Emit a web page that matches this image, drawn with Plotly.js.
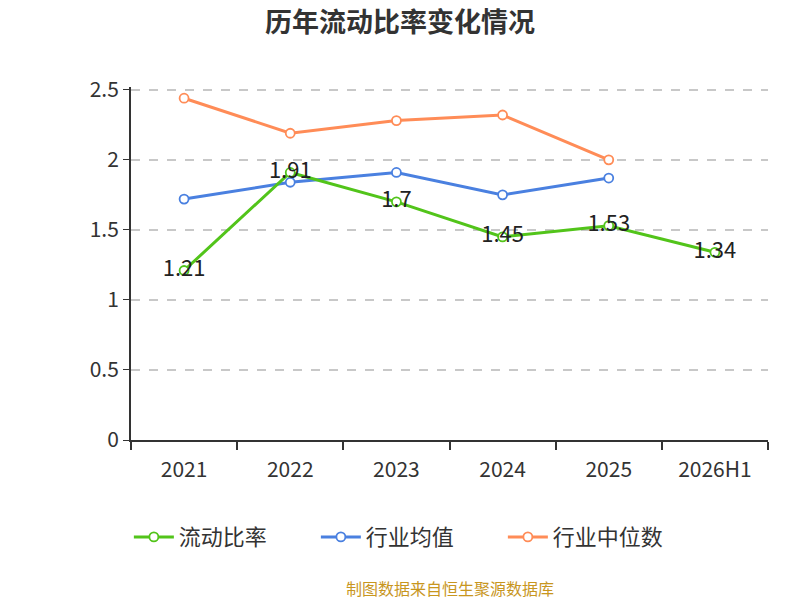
<!DOCTYPE html>
<html>
<head>
<meta charset="utf-8">
<script src="https://cdn.plot.ly/plotly-3.0.1.min.js"></script>
<style>html,body{margin:0;padding:0;background:#fff;}#chart{width:800px;height:600px;}</style>
</head>
<body>
<div id="chart"></div>
<script>
const categories = ["2021", "2022", "2023", "2024", "2025", "2026H1"];
const currentRatio = [1.21, 1.91, 1.7, 1.45, 1.53, 1.34];
const industryMean = [1.72, 1.84, 1.91, 1.75, 1.87];
const industryMedian = [2.44, 2.19, 2.28, 2.32, 2.0];
const seriesNames = ["流动比率", "行业均值", "行业中位数"];
const yTicks = [0, 0.5, 1, 1.5, 2, 2.5];

const font = '"Noto Sans CJK SC", "Noto Sans", sans-serif';
function mk(color){ return {symbol:'circle', size:9, color:'#ffffff', line:{color:color, width:1.8}}; }

const traces = [
  {x: categories, y: currentRatio, name: seriesNames[0], type:'scatter', mode:'lines+markers+text',
   line:{color:'#52c41a', width:3}, marker: mk('#52c41a'),
   text: currentRatio.map(String), textposition:'middle center',
   textfont:{family:font, size:22, color:'#222'}, cliponaxis:false},
  {x: categories.slice(0, industryMean.length), y: industryMean, name: seriesNames[1], type:'scatter', mode:'lines+markers',
   line:{color:'#4a80e0', width:3}, marker: mk('#4a80e0')},
  {x: categories.slice(0, industryMedian.length), y: industryMedian, name: seriesNames[2], type:'scatter', mode:'lines+markers',
   line:{color:'#ff8c57', width:3}, marker: mk('#ff8c57')}
];
const ordered = [traces[2], traces[1], traces[0]];

const layout = {
  width:800, height:600,
  margin:{l:131, r:32, t:87, b:160},
  paper_bgcolor:'#fff', plot_bgcolor:'#fff',
  font:{family:font, color:'#333'},
  title:{text:'<b>历年流动比率变化情况</b>', x:0.5, xanchor:'center', y:0.962, yanchor:'middle',
         font:{family:font, size:27, color:'#333'}},
  showlegend:true,
  legend:{orientation:'h', x:0.437, xanchor:'center', y:-0.275, yanchor:'middle',
          font:{family:font, size:22, color:'#333'}, traceorder:'reversed', itemwidth:40,
          entrywidth:132, entrywidthmode:'pixels'},
  xaxis:{type:'category', categoryorder:'array', categoryarray:categories, range:[-0.5, 5.5],
         showline:true, linecolor:'#333', linewidth:2, ticks:'outside', tickson:'boundaries',
         ticklen:8, tickcolor:'#333', tickwidth:1.5, showgrid:false, zeroline:false,
         ticklabelstandoff:10,
         tickfont:{family:font, size:21, color:'#333'}},
  yaxis:{range:[0, 2.52], tickvals:yTicks, ticktext:yTicks.map(String),
         showline:true, linecolor:'#333', linewidth:2, ticks:'outside', ticklen:6, tickcolor:'#333',
         showgrid:true, gridcolor:'#c8c8c8', griddash:'dash', gridwidth:1.5, zeroline:false,
         tickfont:{family:font, size:21, color:'#333'}},
  annotations:[{text:'制图数据来自恒生聚源数据库', xref:'paper', yref:'paper', x:0.5, y:-0.42,
    xanchor:'center', yanchor:'middle', showarrow:false, font:{family:font, size:16, color:'#c8961e'}}]
};

Plotly.newPlot('chart', ordered, layout, {displayModeBar:false, responsive:false});
</script>
</body>
</html>
